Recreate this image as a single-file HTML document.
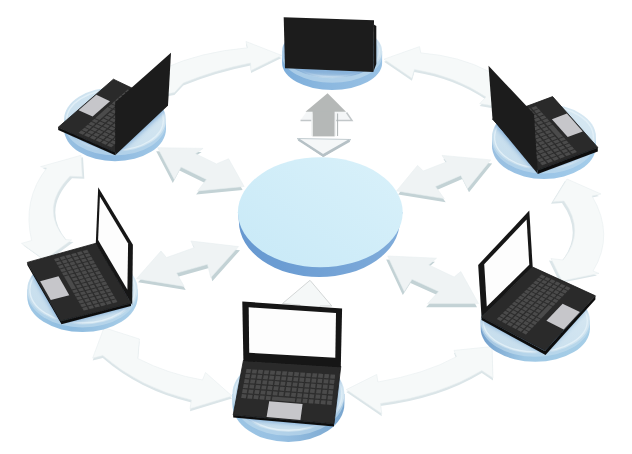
<!DOCTYPE html>
<html lang="en"><head><meta charset="utf-8"><title>Network</title>
<style>html,body{margin:0;padding:0;background:#fff;overflow:hidden}svg{display:block}</style></head>
<body><svg width="632" height="454" viewBox="0 0 632 454">
<defs><filter id="soft" x="0" y="0" width="100%" height="100%" filterUnits="userSpaceOnUse"><feGaussianBlur stdDeviation="0.55"/></filter>
<filter id="bl" x="-20%" y="-20%" width="140%" height="140%"><feGaussianBlur stdDeviation="2.2"/></filter>
<linearGradient id="tp0" x1="1" y1="0" x2="0" y2="1"><stop offset="0" stop-color="#d9f1fa"/><stop offset="1" stop-color="#c8e9f7"/></linearGradient>
<linearGradient id="sd0" x1="0" y1="0" x2="1" y2="0"><stop offset="0" stop-color="#6698d0"/><stop offset=".4" stop-color="#6e9fd4"/><stop offset="1" stop-color="#80acda"/></linearGradient>
<clipPath id="cl0"><ellipse cx="320.3" cy="212.3" rx="82.4" ry="55.0"/></clipPath>
<linearGradient id="tp1" x1="1" y1="0" x2="0" y2="1"><stop offset="0" stop-color="#d8e9f3"/><stop offset="1" stop-color="#c4dcec"/></linearGradient>
<linearGradient id="sd1" x1="0" y1="0" x2="1" y2="0"><stop offset="0" stop-color="#7cadda"/><stop offset=".4" stop-color="#8ab7df"/><stop offset="1" stop-color="#98c1e4"/></linearGradient>
<clipPath id="cl1"><ellipse cx="332.1" cy="51.2" rx="50.0" ry="27.0"/></clipPath>
<linearGradient id="tp2" x1="1" y1="0" x2="0" y2="1"><stop offset="0" stop-color="#d8e9f3"/><stop offset="1" stop-color="#c4dcec"/></linearGradient>
<linearGradient id="sd2" x1="0" y1="0" x2="1" y2="0"><stop offset="0" stop-color="#98c0e1"/><stop offset=".4" stop-color="#8cb8df"/><stop offset="1" stop-color="#a2c9e7"/></linearGradient>
<clipPath id="cl2"><ellipse cx="115.0" cy="119.6" rx="51.0" ry="32.2"/></clipPath>
<linearGradient id="tp3" x1="1" y1="0" x2="0" y2="1"><stop offset="0" stop-color="#d8e9f3"/><stop offset="1" stop-color="#c4dcec"/></linearGradient>
<linearGradient id="sd3" x1="0" y1="0" x2="1" y2="0"><stop offset="0" stop-color="#9ac0e1"/><stop offset=".4" stop-color="#98c3e6"/><stop offset="1" stop-color="#a5cdea"/></linearGradient>
<clipPath id="cl3"><ellipse cx="544.0" cy="137.0" rx="52.0" ry="33.0"/></clipPath>
<linearGradient id="tp4" x1="1" y1="0" x2="0" y2="1"><stop offset="0" stop-color="#d8e9f3"/><stop offset="1" stop-color="#c4dcec"/></linearGradient>
<linearGradient id="sd4" x1="0" y1="0" x2="1" y2="0"><stop offset="0" stop-color="#a0c8e5"/><stop offset=".4" stop-color="#8dbbdf"/><stop offset="1" stop-color="#acd0e9"/></linearGradient>
<clipPath id="cl4"><ellipse cx="82.5" cy="289.5" rx="55.2" ry="35.0"/></clipPath>
<linearGradient id="tp5" x1="1" y1="0" x2="0" y2="1"><stop offset="0" stop-color="#d8e9f3"/><stop offset="1" stop-color="#c4dcec"/></linearGradient>
<linearGradient id="sd5" x1="0" y1="0" x2="1" y2="0"><stop offset="0" stop-color="#729fcc"/><stop offset=".4" stop-color="#9fc8e5"/><stop offset="1" stop-color="#a6cee7"/></linearGradient>
<clipPath id="cl5"><ellipse cx="535.3" cy="320.5" rx="54.6" ry="33.0"/></clipPath>
<linearGradient id="tp6" x1="1" y1="0" x2="0" y2="1"><stop offset="0" stop-color="#d8e9f3"/><stop offset="1" stop-color="#c4dcec"/></linearGradient>
<linearGradient id="sd6" x1="0" y1="0" x2="1" y2="0"><stop offset="0" stop-color="#9cc5e4"/><stop offset=".4" stop-color="#98c1e3"/><stop offset="1" stop-color="#79a6cf"/></linearGradient>
<clipPath id="cl6"><ellipse cx="288.4" cy="394.0" rx="56.0" ry="38.0"/></clipPath></defs>
<g filter="url(#soft)">
<rect width="632" height="454" fill="#fff"/>
<path d="M281.6,55.4 L246,41.5 L247.5,47.8 Q200,52 165,68 L160,95 L174.4,92.6 L183.3,83 Q215,70 250.5,63 L251,70.6 Z" fill="#dbe5e8" transform="translate(0,2.5)"/>
<path d="M281.6,55.4 L246,41.5 L247.5,47.8 Q200,52 165,68 L160,95 L174.4,92.6 L183.3,83 Q215,70 250.5,63 L251,70.6 Z" fill="#f6f9f9" stroke="#e8eef0" stroke-width="0.6"/>
<path d="M384,59.2 L419.5,46.6 L420.8,52.9 Q460,56 489,71.5 L494,106 L479.7,103.6 L486,97 Q455,76 414.4,69.4 L411.9,78.2 Z" fill="#dbe5e8" transform="translate(0,2.5)"/>
<path d="M384,59.2 L419.5,46.6 L420.8,52.9 Q460,56 489,71.5 L494,106 L479.7,103.6 L486,97 Q455,76 414.4,69.4 L411.9,78.2 Z" fill="#f6f9f9" stroke="#e8eef0" stroke-width="0.6"/>
<path d="M567,179 L601,194 L592,196 Q615,235 593,271 L599,273.4 L562,281 L551,258.5 L563,260 Q586,232 564,201 L553,201.8 Z" fill="#dbe5e8" transform="translate(-2,2)"/>
<path d="M567,179 L601,194 L592,196 Q615,235 593,271 L599,273.4 L562,281 L551,258.5 L563,260 Q586,232 564,201 L553,201.8 Z" fill="#f6f9f9" stroke="#e8eef0" stroke-width="0.6"/>
<path d="M346.3,389.6 L376.7,374.4 L378,382 Q425,374 456.5,356.7 L454,350.4 L492,346.6 L493,378 L481.8,370.6 Q440,396 380.5,403.5 L381.8,413.7 Z" fill="#dbe5e8" transform="translate(0,2.5)"/>
<path d="M346.3,389.6 L376.7,374.4 L378,382 Q425,374 456.5,356.7 L454,350.4 L492,346.6 L493,378 L481.8,370.6 Q440,396 380.5,403.5 L381.8,413.7 Z" fill="#f6f9f9" stroke="#e8eef0" stroke-width="0.6"/>
<path d="M104,327.7 L139.5,339 L137.8,358.5 Q168,374 202.5,380 L205.5,372.5 L232,396 L190,408.7 L191.4,400 Q140,388 102.8,355.6 L92.7,358 Z" fill="#dbe5e8" transform="translate(0,2.5)"/>
<path d="M104,327.7 L139.5,339 L137.8,358.5 Q168,374 202.5,380 L205.5,372.5 L232,396 L190,408.7 L191.4,400 Q140,388 102.8,355.6 L92.7,358 Z" fill="#f6f9f9" stroke="#e8eef0" stroke-width="0.6"/>
<path d="M81,155.3 L82.3,176.8 L70,176.2 Q39,208 65.5,239.5 L71.5,240 L44.3,259.9 L21.5,243.4 L31.6,240.5 Q22,200 46.8,168 L40.5,166.7 Z" fill="#dbe5e8" transform="translate(2,2)"/>
<path d="M81,155.3 L82.3,176.8 L70,176.2 Q39,208 65.5,239.5 L71.5,240 L44.3,259.9 L21.5,243.4 L31.6,240.5 Q22,200 46.8,168 L40.5,166.7 Z" fill="#f6f9f9" stroke="#e8eef0" stroke-width="0.6"/>
<polygon points="156.2,151.3 201.6,152.0 193.9,157.3 214.9,167.5 227.1,162.4 242.6,190.1 196.1,194.5 205.0,183.0 179.5,170.6 172.8,183.0" fill="#c3d2d5" />
<polygon points="157.7,147.7 203.1,148.4 195.4,153.7 216.4,163.9 228.6,158.8 244.1,186.5 197.6,190.9 206.5,179.4 181.0,167.0 174.3,179.4" fill="#eff3f4" stroke="#e8eef0" stroke-width="0.6"/>
<polygon points="398.1,194.5 419.1,169.0 424.7,174.6 447.9,165.6 443.5,159.0 492.2,163.5 469.0,192.3 462.3,179.0 436.9,190.1 445.7,202.2" fill="#c3d2d5" />
<polygon points="396.6,190.9 417.6,165.4 423.2,171.0 446.4,162.0 442.0,155.4 490.7,159.9 467.5,188.7 460.8,175.4 435.4,186.5 444.2,198.6" fill="#eff3f4" stroke="#e8eef0" stroke-width="0.6"/>
<polygon points="138.1,282.3 162.5,254.6 168.0,261.2 195.7,251.3 192.4,244.6 240.0,250.2 212.3,281.2 209.0,267.9 178.0,276.7 185.7,290.0" fill="#c3d2d5" />
<polygon points="136.6,278.7 161.0,251.0 166.5,257.6 194.2,247.7 190.9,241.0 238.5,246.6 210.8,277.6 207.5,264.3 176.5,273.1 184.2,286.4" fill="#eff3f4" stroke="#e8eef0" stroke-width="0.6"/>
<polygon points="386.2,259.6 435.0,261.8 427.2,268.5 452.7,280.6 459.3,275.1 477.0,307.2 426.1,307.2 437.2,295.1 410.5,282.9 402.8,295.1" fill="#c3d2d5" />
<polygon points="387.7,256.0 436.5,258.2 428.7,264.9 454.2,277.0 460.8,271.5 478.5,303.6 427.6,303.6 438.7,291.5 412.0,279.3 404.3,291.5" fill="#eff3f4" stroke="#e8eef0" stroke-width="0.6"/>
<polygon points="310.0,280.3 282.5,303.5 300.0,305.0 300.0,330.0 320.0,330.0 320.0,306.0 331.8,306.0" fill="#f5f8f8" stroke="#cfd3d2" stroke-width="0.9"/>
<polygon points="297.0,138.5 351.0,139.5 323.2,156.5" fill="#f5f7f8" stroke="#c3cdd1" stroke-width="1"/>
<path d="M298.5,139.5 L323.2,155.5 L349.5,140.5" fill="none" stroke="#b6c1c6" stroke-width="2.6" stroke-linejoin="round"/>
<polygon points="300.5,120.3 306.5,111.8 345.5,111.8 352.0,120.3" fill="#f4f6f7" />
<path d="M300.5,120.6 H312 M335,120.6 H352 L346.5,112.5" fill="none" stroke="#c2c7c9" stroke-width="1.5"/>
<polygon points="312.6,111.0 334.6,111.0 334.6,136.4 312.6,136.4" fill="#b5b8b7" />
<polygon points="305.5,111.8 327.6,93.2 346.0,111.8" fill="#b5b8b7" />
<path d="M337.6,113.5 V136" stroke="#aeb3b4" stroke-width="1" fill="none"/>
<path d="M311.8,113.5 V136 M335.6,113.5 V136" stroke="#f1f3f3" stroke-width="1.2" fill="none"/>
<path d="M237.9,212.3 L238.9,221.5 A80.4,55.5 0 0 0 399.7,221.5 L402.7,212.3 Z" fill="url(#sd0)"/>
<ellipse cx="320.3" cy="212.3" rx="82.4" ry="55.0" fill="url(#tp0)"/>
<path d="M282.1,51.2 L282.1,63.0 A50.0,27.0 0 0 0 382.1,63.0 L382.1,51.2 Z" fill="url(#sd1)"/>
<path d="M282.1,51.2 L282.1,55.7 A50.0,27.0 0 0 0 382.1,55.7 L382.1,51.2 Z" fill="#c4deef" opacity=".6"/>
<ellipse cx="332.1" cy="51.2" rx="50.0" ry="27.0" fill="url(#tp1)"/>
<ellipse cx="332.1" cy="51.5" rx="47.4" ry="25.0" fill="none" stroke="#e4f1f8" stroke-width="1.4" opacity=".85"/>
<g clip-path="url(#cl1)"><polygon points="283.0,40.0 376.0,40.0 376.0,78.0 283.0,74.0" fill="#6a9dd0" opacity=".7" filter="url(#bl)"/></g>
<path d="M64.0,119.6 L64.0,129.1 A51.0,32.2 0 0 0 166.0,129.1 L166.0,119.6 Z" fill="url(#sd2)"/>
<path d="M64.0,119.6 L64.0,123.2 A51.0,32.2 0 0 0 166.0,123.2 L166.0,119.6 Z" fill="#c4deef" opacity=".6"/>
<ellipse cx="115.0" cy="119.6" rx="51.0" ry="32.2" fill="url(#tp2)"/>
<ellipse cx="115.0" cy="119.9" rx="48.4" ry="30.2" fill="none" stroke="#e4f1f8" stroke-width="1.4" opacity=".85"/>
<g clip-path="url(#cl2)"><polygon points="115.2,156.3 167.5,109.0 113.4,83.2 58.2,131.3" fill="#6a9dd0" opacity=".7" filter="url(#bl)"/></g>
<path d="M492.0,137.0 L492.0,146.0 A52.0,33.0 0 0 0 596.0,146.0 L596.0,137.0 Z" fill="url(#sd3)"/>
<path d="M492.0,137.0 L492.0,140.4 A52.0,33.0 0 0 0 596.0,140.4 L596.0,137.0 Z" fill="#c4deef" opacity=".6"/>
<ellipse cx="544.0" cy="137.0" rx="52.0" ry="33.0" fill="url(#tp3)"/>
<ellipse cx="544.0" cy="137.3" rx="49.4" ry="31.0" fill="none" stroke="#e4f1f8" stroke-width="1.4" opacity=".85"/>
<g clip-path="url(#cl3)"><polygon points="537.6,174.2 492.5,123.0 552.6,100.6 597.8,151.4" fill="#6a9dd0" opacity=".7" filter="url(#bl)"/></g>
<path d="M27.3,289.5 L27.3,297.1 A55.2,35.0 0 0 0 137.7,297.1 L137.7,289.5 Z" fill="url(#sd4)"/>
<path d="M27.3,289.5 L27.3,292.4 A55.2,35.0 0 0 0 137.7,292.4 L137.7,289.5 Z" fill="#c4deef" opacity=".6"/>
<ellipse cx="82.5" cy="289.5" rx="55.2" ry="35.0" fill="url(#tp4)"/>
<ellipse cx="82.5" cy="289.8" rx="52.6" ry="33.0" fill="none" stroke="#e4f1f8" stroke-width="1.4" opacity=".85"/>
<g clip-path="url(#cl4)"><polygon points="96.2,247.2 131.0,307.2 60.8,325.0 27.3,266.4" fill="#6a9dd0" opacity=".7" filter="url(#bl)"/></g>
<path d="M480.7,320.5 L480.7,328.8 A54.6,33.0 0 0 0 589.9,328.8 L589.9,320.5 Z" fill="url(#sd5)"/>
<path d="M480.7,320.5 L480.7,323.7 A54.6,33.0 0 0 0 589.9,323.7 L589.9,320.5 Z" fill="#c4deef" opacity=".6"/>
<ellipse cx="535.3" cy="320.5" rx="54.6" ry="33.0" fill="url(#tp5)"/>
<ellipse cx="535.3" cy="320.8" rx="52.0" ry="31.0" fill="none" stroke="#e4f1f8" stroke-width="1.4" opacity=".85"/>
<g clip-path="url(#cl5)"><polygon points="481.5,321.0 532.7,271.1 595.4,299.8 544.8,354.5" fill="#6a9dd0" opacity=".7" filter="url(#bl)"/></g>
<path d="M232.4,394.0 L232.4,404.0 A56.0,38.0 0 0 0 344.4,404.0 L344.4,394.0 Z" fill="url(#sd6)"/>
<path d="M232.4,394.0 L232.4,397.8 A56.0,38.0 0 0 0 344.4,397.8 L344.4,394.0 Z" fill="#c4deef" opacity=".6"/>
<ellipse cx="288.4" cy="394.0" rx="56.0" ry="38.0" fill="url(#tp6)"/>
<ellipse cx="288.4" cy="394.3" rx="53.4" ry="36.0" fill="none" stroke="#e4f1f8" stroke-width="1.4" opacity=".85"/>
<g clip-path="url(#cl6)"><polygon points="243.4,364.5 340.8,370.3 334.0,427.8 233.2,419.0" fill="#6a9dd0" opacity=".7" filter="url(#bl)"/></g>
<polygon points="283.7,17.2 374.0,20.3 373.3,72.0 285.0,68.2" fill="#1d1d1d" />
<polygon points="373.8,24.5 376.3,26.0 376.3,64.0 373.3,72.0" fill="#171717" />
<polygon points="58.2,127.3 115.2,152.3 115.2,155.3 58.2,130.0" fill="#111" />
<polygon points="115.2,152.3 167.5,105.0 113.4,79.2 58.2,127.3" fill="#2a2a2a" stroke="#1a1a1a" stroke-width="0.8"/>
<polygon points="111.6,147.9 160.0,104.3 127.5,88.9 77.5,132.9" fill="#2d2d2d" />
<polygon points="111.3,147.3 113.8,145.0 109.5,143.1 107.0,145.4" fill="#4b4b4b" />
<polygon points="114.5,144.3 117.0,142.1 112.7,140.2 110.2,142.4" fill="#4b4b4b" />
<polygon points="117.8,141.4 120.2,139.2 115.9,137.3 113.5,139.5" fill="#4b4b4b" />
<polygon points="121.0,138.5 123.4,136.3 119.2,134.4 116.7,136.6" fill="#4b4b4b" />
<polygon points="124.2,135.6 126.7,133.4 122.4,131.5 120.0,133.7" fill="#4b4b4b" />
<polygon points="127.4,132.7 129.9,130.5 125.7,128.6 123.2,130.8" fill="#4b4b4b" />
<polygon points="130.7,129.8 133.1,127.6 128.9,125.7 126.4,127.9" fill="#4b4b4b" />
<polygon points="133.9,126.9 136.4,124.7 132.1,122.8 129.7,125.0" fill="#4b4b4b" />
<polygon points="137.1,124.0 139.6,121.8 135.4,119.9 132.9,122.1" fill="#4b4b4b" />
<polygon points="140.4,121.1 142.8,118.9 138.6,116.9 136.2,119.2" fill="#4b4b4b" />
<polygon points="143.6,118.2 146.0,116.0 141.9,114.0 139.4,116.2" fill="#4b4b4b" />
<polygon points="146.8,115.3 149.3,113.1 145.1,111.1 142.6,113.3" fill="#4b4b4b" />
<polygon points="150.0,112.4 152.5,110.2 148.3,108.2 145.9,110.4" fill="#4b4b4b" />
<polygon points="153.3,109.5 155.7,107.3 151.6,105.3 149.1,107.5" fill="#4b4b4b" />
<polygon points="156.5,106.6 158.9,104.4 154.8,102.4 152.4,104.6" fill="#4b4b4b" />
<polygon points="105.6,144.8 108.1,142.5 103.8,140.6 101.3,142.8" fill="#4b4b4b" />
<polygon points="108.9,141.8 111.3,139.6 107.0,137.7 104.6,139.9" fill="#4b4b4b" />
<polygon points="112.1,138.9 114.6,136.7 110.3,134.8 107.8,137.0" fill="#4b4b4b" />
<polygon points="115.4,136.0 117.8,133.8 113.6,131.9 111.1,134.1" fill="#4b4b4b" />
<polygon points="118.6,133.1 121.1,130.9 116.8,129.0 114.3,131.2" fill="#4b4b4b" />
<polygon points="121.8,130.2 124.3,128.0 120.1,126.1 117.6,128.3" fill="#4b4b4b" />
<polygon points="125.1,127.3 127.6,125.1 123.3,123.1 120.9,125.4" fill="#4b4b4b" />
<polygon points="128.3,124.4 130.8,122.2 126.6,120.2 124.1,122.4" fill="#4b4b4b" />
<polygon points="131.6,121.5 134.1,119.2 129.8,117.3 127.4,119.5" fill="#4b4b4b" />
<polygon points="134.8,118.5 137.3,116.3 133.1,114.4 130.6,116.6" fill="#4b4b4b" />
<polygon points="138.1,115.6 140.5,113.4 136.4,111.5 133.9,113.7" fill="#4b4b4b" />
<polygon points="141.3,112.7 143.8,110.5 139.6,108.6 137.1,110.8" fill="#4b4b4b" />
<polygon points="144.6,109.8 147.0,107.6 142.9,105.7 140.4,107.9" fill="#4b4b4b" />
<polygon points="147.8,106.9 150.3,104.7 146.1,102.7 143.7,105.0" fill="#4b4b4b" />
<polygon points="151.1,104.0 153.5,101.8 149.4,99.8 146.9,102.0" fill="#4b4b4b" />
<polygon points="99.9,142.2 102.4,140.0 98.1,138.1 95.6,140.3" fill="#4b4b4b" />
<polygon points="103.2,139.3 105.7,137.1 101.4,135.2 98.9,137.4" fill="#4b4b4b" />
<polygon points="106.5,136.4 108.9,134.2 104.7,132.3 102.2,134.5" fill="#4b4b4b" />
<polygon points="109.7,133.5 112.2,131.3 107.9,129.4 105.4,131.6" fill="#4b4b4b" />
<polygon points="113.0,130.6 115.5,128.4 111.2,126.4 108.7,128.7" fill="#4b4b4b" />
<polygon points="116.3,127.7 118.7,125.4 114.5,123.5 112.0,125.7" fill="#4b4b4b" />
<polygon points="119.5,124.7 122.0,122.5 117.8,120.6 115.3,122.8" fill="#4b4b4b" />
<polygon points="122.8,121.8 125.3,119.6 121.0,117.7 118.6,119.9" fill="#4b4b4b" />
<polygon points="126.0,118.9 128.5,116.7 124.3,114.8 121.8,117.0" fill="#4b4b4b" />
<polygon points="129.3,116.0 131.8,113.8 127.6,111.8 125.1,114.1" fill="#4b4b4b" />
<polygon points="132.6,113.1 135.0,110.9 130.9,108.9 128.4,111.1" fill="#4b4b4b" />
<polygon points="135.8,110.2 138.3,108.0 134.1,106.0 131.7,108.2" fill="#4b4b4b" />
<polygon points="139.1,107.3 141.6,105.0 137.4,103.1 134.9,105.3" fill="#4b4b4b" />
<polygon points="142.4,104.3 144.8,102.1 140.7,100.2 138.2,102.4" fill="#4b4b4b" />
<polygon points="145.6,101.4 148.1,99.2 144.0,97.2 141.5,99.5" fill="#4b4b4b" />
<polygon points="94.2,139.7 96.7,137.5 92.4,135.6 89.9,137.8" fill="#4b4b4b" />
<polygon points="97.5,136.8 100.0,134.6 95.7,132.7 93.2,134.9" fill="#4b4b4b" />
<polygon points="100.8,133.9 103.3,131.7 99.0,129.8 96.5,132.0" fill="#4b4b4b" />
<polygon points="104.1,131.0 106.6,128.8 102.3,126.8 99.8,129.1" fill="#4b4b4b" />
<polygon points="107.4,128.1 109.9,125.8 105.6,123.9 103.1,126.1" fill="#4b4b4b" />
<polygon points="110.7,125.1 113.1,122.9 108.9,121.0 106.4,123.2" fill="#4b4b4b" />
<polygon points="113.9,122.2 116.4,120.0 112.2,118.1 109.7,120.3" fill="#4b4b4b" />
<polygon points="117.2,119.3 119.7,117.1 115.5,115.1 113.0,117.4" fill="#4b4b4b" />
<polygon points="120.5,116.4 123.0,114.2 118.8,112.2 116.3,114.4" fill="#4b4b4b" />
<polygon points="123.8,113.5 126.3,111.2 122.1,109.3 119.6,111.5" fill="#4b4b4b" />
<polygon points="127.1,110.5 129.6,108.3 125.4,106.4 122.9,108.6" fill="#4b4b4b" />
<polygon points="130.3,107.6 132.8,105.4 128.7,103.4 126.2,105.7" fill="#4b4b4b" />
<polygon points="133.6,104.7 136.1,102.5 132.0,100.5 129.5,102.7" fill="#4b4b4b" />
<polygon points="136.9,101.8 139.4,99.5 135.3,97.6 132.8,99.8" fill="#4b4b4b" />
<polygon points="140.2,98.8 142.7,96.6 138.6,94.7 136.1,96.9" fill="#4b4b4b" />
<polygon points="88.6,137.2 91.1,135.0 86.8,133.1 84.2,135.3" fill="#4b4b4b" />
<polygon points="91.9,134.3 94.4,132.1 90.1,130.2 87.6,132.4" fill="#4b4b4b" />
<polygon points="95.2,131.4 97.7,129.2 93.4,127.3 90.9,129.5" fill="#4b4b4b" />
<polygon points="98.5,128.5 101.0,126.2 96.7,124.3 94.2,126.5" fill="#4b4b4b" />
<polygon points="101.8,125.5 104.3,123.3 100.0,121.4 97.5,123.6" fill="#4b4b4b" />
<polygon points="105.1,122.6 107.6,120.4 103.3,118.5 100.8,120.7" fill="#4b4b4b" />
<polygon points="108.4,119.7 110.9,117.5 106.6,115.5 104.1,117.8" fill="#4b4b4b" />
<polygon points="111.7,116.8 114.2,114.5 109.9,112.6 107.4,114.8" fill="#4b4b4b" />
<polygon points="115.0,113.8 117.5,111.6 113.3,109.7 110.7,111.9" fill="#4b4b4b" />
<polygon points="118.3,110.9 120.8,108.7 116.6,106.7 114.1,109.0" fill="#4b4b4b" />
<polygon points="121.6,108.0 124.1,105.8 119.9,103.8 117.4,106.0" fill="#4b4b4b" />
<polygon points="124.9,105.1 127.4,102.8 123.2,100.9 120.7,103.1" fill="#4b4b4b" />
<polygon points="128.1,102.1 130.7,99.9 126.5,98.0 124.0,100.2" fill="#4b4b4b" />
<polygon points="131.4,99.2 134.0,97.0 129.8,95.0 127.3,97.2" fill="#4b4b4b" />
<polygon points="134.7,96.3 137.3,94.0 133.1,92.1 130.6,94.3" fill="#4b4b4b" />
<polygon points="82.9,134.7 85.4,132.5 81.1,130.6 78.6,132.8" fill="#4b4b4b" />
<polygon points="86.2,131.8 88.7,129.6 84.4,127.7 81.9,129.9" fill="#4b4b4b" />
<polygon points="89.5,128.9 92.0,126.6 87.7,124.7 85.2,127.0" fill="#4b4b4b" />
<polygon points="92.8,125.9 95.3,123.7 91.1,121.8 88.5,124.0" fill="#4b4b4b" />
<polygon points="96.1,123.0 98.7,120.8 94.4,118.9 91.9,121.1" fill="#4b4b4b" />
<polygon points="99.5,120.1 111.9,109.1 107.7,107.1 95.2,118.2" fill="#4b4b4b" />
<polygon points="112.7,108.4 115.2,106.1 111.1,104.2 108.5,106.4" fill="#4b4b4b" />
<polygon points="116.0,105.4 118.6,103.2 114.4,101.3 111.9,103.5" fill="#4b4b4b" />
<polygon points="119.4,102.5 121.9,100.3 117.7,98.3 115.2,100.6" fill="#4b4b4b" />
<polygon points="122.7,99.6 125.2,97.3 121.0,95.4 118.5,97.6" fill="#4b4b4b" />
<polygon points="126.0,96.6 128.5,94.4 124.4,92.5 121.8,94.7" fill="#4b4b4b" />
<polygon points="129.3,93.7 131.8,91.5 127.7,89.5 125.2,91.7" fill="#4b4b4b" />
<polygon points="92.6,116.6 110.0,101.2 96.3,94.8 78.6,110.2" fill="#c6c6ca" />
<polygon points="115.2,102.3 171.0,52.7 168.0,105.5 115.2,155.3" fill="#1c1c1c" />
<polygon points="537.6,170.2 597.8,147.4 597.8,151.5 537.8,174.0" fill="#111" />
<polygon points="537.6,170.2 492.5,119.0 552.6,96.6 597.8,147.4" fill="#2a2a2a" stroke="#1a1a1a" stroke-width="0.8"/>
<polygon points="541.8,165.9 500.3,118.8 536.4,105.4 577.9,152.2" fill="#2d2d2d" />
<polygon points="542.2,165.2 540.1,162.8 544.7,161.1 546.8,163.5" fill="#4b4b4b" />
<polygon points="539.4,162.1 537.3,159.7 541.9,158.0 544.0,160.4" fill="#4b4b4b" />
<polygon points="536.7,158.9 534.6,156.6 539.1,154.8 541.2,157.2" fill="#4b4b4b" />
<polygon points="533.9,155.8 531.8,153.4 536.4,151.7 538.5,154.1" fill="#4b4b4b" />
<polygon points="531.1,152.7 529.0,150.3 533.6,148.6 535.7,150.9" fill="#4b4b4b" />
<polygon points="528.4,149.5 526.3,147.2 530.8,145.4 532.9,147.8" fill="#4b4b4b" />
<polygon points="525.6,146.4 523.5,144.0 528.1,142.3 530.2,144.7" fill="#4b4b4b" />
<polygon points="522.8,143.3 520.7,140.9 525.3,139.2 527.4,141.5" fill="#4b4b4b" />
<polygon points="520.1,140.1 518.0,137.7 522.5,136.0 524.6,138.4" fill="#4b4b4b" />
<polygon points="517.3,137.0 515.2,134.6 519.8,132.9 521.9,135.3" fill="#4b4b4b" />
<polygon points="514.5,133.8 512.4,131.5 517.0,129.8 519.1,132.1" fill="#4b4b4b" />
<polygon points="511.8,130.7 509.7,128.3 514.2,126.6 516.3,129.0" fill="#4b4b4b" />
<polygon points="509.0,127.6 506.9,125.2 511.5,123.5 513.6,125.9" fill="#4b4b4b" />
<polygon points="506.2,124.4 504.1,122.1 508.7,120.3 510.8,122.7" fill="#4b4b4b" />
<polygon points="503.5,121.3 501.4,118.9 505.9,117.2 508.0,119.6" fill="#4b4b4b" />
<polygon points="548.2,162.9 546.1,160.6 550.7,158.8 552.8,161.2" fill="#4b4b4b" />
<polygon points="545.5,159.8 543.4,157.4 547.9,155.7 550.0,158.1" fill="#4b4b4b" />
<polygon points="542.7,156.7 540.6,154.3 545.2,152.6 547.3,154.9" fill="#4b4b4b" />
<polygon points="539.9,153.5 537.8,151.2 542.4,149.4 544.5,151.8" fill="#4b4b4b" />
<polygon points="537.2,150.4 535.1,148.0 539.6,146.3 541.7,148.7" fill="#4b4b4b" />
<polygon points="534.4,147.3 532.3,144.9 536.9,143.2 539.0,145.5" fill="#4b4b4b" />
<polygon points="531.6,144.1 529.5,141.8 534.1,140.0 536.2,142.4" fill="#4b4b4b" />
<polygon points="528.9,141.0 526.8,138.6 531.3,136.9 533.4,139.3" fill="#4b4b4b" />
<polygon points="526.1,137.9 524.0,135.5 528.6,133.8 530.7,136.1" fill="#4b4b4b" />
<polygon points="523.3,134.7 521.2,132.3 525.8,130.6 527.9,133.0" fill="#4b4b4b" />
<polygon points="520.6,131.6 518.4,129.2 523.0,127.5 525.1,129.9" fill="#4b4b4b" />
<polygon points="517.8,128.5 515.7,126.1 520.2,124.4 522.4,126.7" fill="#4b4b4b" />
<polygon points="515.0,125.3 512.9,122.9 517.5,121.2 519.6,123.6" fill="#4b4b4b" />
<polygon points="512.2,122.2 510.1,119.8 514.7,118.1 516.8,120.5" fill="#4b4b4b" />
<polygon points="509.5,119.1 507.4,116.7 511.9,115.0 514.0,117.3" fill="#4b4b4b" />
<polygon points="554.2,160.7 552.1,158.3 556.7,156.6 558.8,158.9" fill="#4b4b4b" />
<polygon points="551.5,157.5 549.4,155.2 553.9,153.4 556.1,155.8" fill="#4b4b4b" />
<polygon points="548.7,154.4 546.6,152.0 551.2,150.3 553.3,152.7" fill="#4b4b4b" />
<polygon points="545.9,151.3 543.8,148.9 548.4,147.2 550.5,149.5" fill="#4b4b4b" />
<polygon points="543.2,148.1 541.1,145.8 545.6,144.0 547.7,146.4" fill="#4b4b4b" />
<polygon points="540.4,145.0 538.3,142.6 542.9,140.9 545.0,143.3" fill="#4b4b4b" />
<polygon points="537.6,141.9 535.5,139.5 540.1,137.8 542.2,140.2" fill="#4b4b4b" />
<polygon points="534.9,138.7 532.8,136.4 537.3,134.6 539.4,137.0" fill="#4b4b4b" />
<polygon points="532.1,135.6 530.0,133.2 534.6,131.5 536.7,133.9" fill="#4b4b4b" />
<polygon points="529.3,132.5 527.2,130.1 531.8,128.4 533.9,130.8" fill="#4b4b4b" />
<polygon points="526.6,129.3 524.5,127.0 529.0,125.2 531.1,127.6" fill="#4b4b4b" />
<polygon points="523.8,126.2 521.7,123.8 526.3,122.1 528.4,124.5" fill="#4b4b4b" />
<polygon points="521.0,123.1 518.9,120.7 523.5,119.0 525.6,121.4" fill="#4b4b4b" />
<polygon points="518.3,119.9 516.2,117.6 520.7,115.9 522.8,118.2" fill="#4b4b4b" />
<polygon points="515.5,116.8 513.4,114.4 518.0,112.7 520.1,115.1" fill="#4b4b4b" />
<polygon points="560.3,158.4 558.2,156.0 562.7,154.3 564.8,156.7" fill="#4b4b4b" />
<polygon points="557.5,155.3 555.4,152.9 560.0,151.2 562.1,153.5" fill="#4b4b4b" />
<polygon points="554.7,152.1 552.6,149.8 557.2,148.0 559.3,150.4" fill="#4b4b4b" />
<polygon points="552.0,149.0 549.9,146.6 554.4,144.9 556.5,147.3" fill="#4b4b4b" />
<polygon points="549.2,145.9 547.1,143.5 551.7,141.8 553.8,144.1" fill="#4b4b4b" />
<polygon points="546.4,142.7 544.3,140.4 548.9,138.6 551.0,141.0" fill="#4b4b4b" />
<polygon points="543.7,139.6 541.5,137.2 546.1,135.5 548.2,137.9" fill="#4b4b4b" />
<polygon points="540.9,136.5 538.8,134.1 543.4,132.4 545.5,134.8" fill="#4b4b4b" />
<polygon points="538.1,133.3 536.0,131.0 540.6,129.3 542.7,131.6" fill="#4b4b4b" />
<polygon points="535.3,130.2 533.2,127.8 537.8,126.1 539.9,128.5" fill="#4b4b4b" />
<polygon points="532.6,127.1 530.5,124.7 535.0,123.0 537.1,125.4" fill="#4b4b4b" />
<polygon points="529.8,124.0 527.7,121.6 532.3,119.9 534.4,122.2" fill="#4b4b4b" />
<polygon points="527.0,120.8 524.9,118.4 529.5,116.7 531.6,119.1" fill="#4b4b4b" />
<polygon points="524.3,117.7 522.2,115.3 526.7,113.6 528.8,116.0" fill="#4b4b4b" />
<polygon points="521.5,114.6 519.4,112.2 524.0,110.5 526.1,112.9" fill="#4b4b4b" />
<polygon points="566.3,156.1 564.2,153.7 568.8,152.0 570.9,154.4" fill="#4b4b4b" />
<polygon points="563.5,153.0 561.4,150.6 566.0,148.9 568.1,151.3" fill="#4b4b4b" />
<polygon points="560.7,149.9 558.6,147.5 563.2,145.8 565.3,148.1" fill="#4b4b4b" />
<polygon points="558.0,146.7 555.9,144.4 560.4,142.6 562.5,145.0" fill="#4b4b4b" />
<polygon points="555.2,143.6 553.1,141.2 557.7,139.5 559.8,141.9" fill="#4b4b4b" />
<polygon points="552.4,140.5 550.3,138.1 554.9,136.4 557.0,138.8" fill="#4b4b4b" />
<polygon points="549.7,137.3 547.6,135.0 552.1,133.2 554.2,135.6" fill="#4b4b4b" />
<polygon points="546.9,134.2 544.8,131.8 549.4,130.1 551.5,132.5" fill="#4b4b4b" />
<polygon points="544.1,131.1 542.0,128.7 546.6,127.0 548.7,129.4" fill="#4b4b4b" />
<polygon points="541.4,128.0 539.3,125.6 543.8,123.9 545.9,126.2" fill="#4b4b4b" />
<polygon points="538.6,124.8 536.5,122.5 541.1,120.7 543.2,123.1" fill="#4b4b4b" />
<polygon points="535.8,121.7 533.7,119.3 538.3,117.6 540.4,120.0" fill="#4b4b4b" />
<polygon points="533.1,118.6 530.9,116.2 535.5,114.5 537.6,116.9" fill="#4b4b4b" />
<polygon points="530.3,115.5 528.2,113.1 532.7,111.4 534.9,113.7" fill="#4b4b4b" />
<polygon points="527.5,112.3 525.4,109.9 530.0,108.2 532.1,110.6" fill="#4b4b4b" />
<polygon points="572.3,153.8 570.2,151.5 574.8,149.7 576.9,152.1" fill="#4b4b4b" />
<polygon points="569.5,150.7 567.4,148.3 572.0,146.6 574.1,149.0" fill="#4b4b4b" />
<polygon points="566.8,147.6 564.7,145.2 569.2,143.5 571.3,145.9" fill="#4b4b4b" />
<polygon points="564.0,144.5 561.9,142.1 566.5,140.4 568.6,142.7" fill="#4b4b4b" />
<polygon points="561.2,141.3 559.1,139.0 563.7,137.2 565.8,139.6" fill="#4b4b4b" />
<polygon points="558.5,138.2 548.0,126.5 552.6,124.7 563.0,136.5" fill="#4b4b4b" />
<polygon points="547.4,125.7 545.3,123.3 549.8,121.6 551.9,124.0" fill="#4b4b4b" />
<polygon points="544.6,122.6 542.5,120.2 547.1,118.5 549.2,120.9" fill="#4b4b4b" />
<polygon points="541.8,119.5 539.7,117.1 544.3,115.4 546.4,117.7" fill="#4b4b4b" />
<polygon points="539.1,116.3 537.0,114.0 541.5,112.2 543.6,114.6" fill="#4b4b4b" />
<polygon points="536.3,113.2 534.2,110.8 538.8,109.1 540.9,111.5" fill="#4b4b4b" />
<polygon points="533.5,110.1 531.4,107.7 536.0,106.0 538.1,108.4" fill="#4b4b4b" />
<polygon points="567.7,137.0 551.9,119.2 566.9,113.6 582.7,131.4" fill="#c6c6ca" />
<polygon points="488.5,65.7 534.0,114.0 537.8,174.0 492.5,119.0" fill="#1c1c1c" />
<polygon points="27.3,262.4 60.8,321.0 131.0,303.2 131.0,306.0 61.5,324.3 27.3,265.0" fill="#111" />
<polygon points="96.2,243.2 131.0,303.2 60.8,321.0 27.3,262.4" fill="#2a2a2a" stroke="#1a1a1a" stroke-width="0.8"/>
<polygon points="87.6,249.1 118.4,302.3 83.3,311.2 53.1,258.6" fill="#2d2d2d" />
<polygon points="87.2,249.7 88.7,252.4 84.3,253.6 82.8,250.9" fill="#4b4b4b" />
<polygon points="89.2,253.2 90.8,255.9 86.4,257.1 84.8,254.4" fill="#4b4b4b" />
<polygon points="91.3,256.8 92.8,259.5 88.4,260.7 86.9,258.0" fill="#4b4b4b" />
<polygon points="93.3,260.3 94.9,263.0 90.5,264.2 88.9,261.5" fill="#4b4b4b" />
<polygon points="95.4,263.9 96.9,266.6 92.5,267.8 91.0,265.1" fill="#4b4b4b" />
<polygon points="97.4,267.4 99.0,270.1 94.6,271.3 93.0,268.6" fill="#4b4b4b" />
<polygon points="99.5,271.0 101.0,273.7 96.6,274.8 95.1,272.1" fill="#4b4b4b" />
<polygon points="101.5,274.5 103.1,277.2 98.7,278.4 97.1,275.7" fill="#4b4b4b" />
<polygon points="103.6,278.1 105.1,280.8 100.7,281.9 99.2,279.2" fill="#4b4b4b" />
<polygon points="105.6,281.6 107.2,284.3 102.8,285.5 101.2,282.8" fill="#4b4b4b" />
<polygon points="107.7,285.2 109.2,287.8 104.8,289.0 103.3,286.3" fill="#4b4b4b" />
<polygon points="109.7,288.7 111.3,291.4 106.9,292.5 105.3,289.9" fill="#4b4b4b" />
<polygon points="111.8,292.2 113.3,294.9 108.9,296.1 107.4,293.4" fill="#4b4b4b" />
<polygon points="113.8,295.8 115.4,298.5 111.0,299.6 109.4,296.9" fill="#4b4b4b" />
<polygon points="115.9,299.3 117.4,302.0 113.0,303.2 111.4,300.5" fill="#4b4b4b" />
<polygon points="81.4,251.3 83.0,254.0 78.6,255.2 77.0,252.5" fill="#4b4b4b" />
<polygon points="83.5,254.8 85.0,257.5 80.6,258.7 79.1,256.0" fill="#4b4b4b" />
<polygon points="85.5,258.4 87.1,261.0 82.7,262.2 81.1,259.6" fill="#4b4b4b" />
<polygon points="87.5,261.9 89.1,264.6 84.7,265.8 83.2,263.1" fill="#4b4b4b" />
<polygon points="89.6,265.4 91.1,268.1 86.8,269.3 85.2,266.6" fill="#4b4b4b" />
<polygon points="91.6,269.0 93.2,271.7 88.8,272.8 87.2,270.2" fill="#4b4b4b" />
<polygon points="93.7,272.5 95.2,275.2 90.8,276.4 89.3,273.7" fill="#4b4b4b" />
<polygon points="95.7,276.1 97.3,278.7 92.9,279.9 91.3,277.2" fill="#4b4b4b" />
<polygon points="97.8,279.6 99.3,282.3 94.9,283.5 93.4,280.8" fill="#4b4b4b" />
<polygon points="99.8,283.1 101.4,285.8 97.0,287.0 95.4,284.3" fill="#4b4b4b" />
<polygon points="101.9,286.7 103.4,289.4 99.0,290.5 97.4,287.8" fill="#4b4b4b" />
<polygon points="103.9,290.2 105.5,292.9 101.0,294.1 99.5,291.4" fill="#4b4b4b" />
<polygon points="106.0,293.8 107.5,296.4 103.1,297.6 101.5,294.9" fill="#4b4b4b" />
<polygon points="108.0,297.3 109.6,300.0 105.1,301.1 103.6,298.4" fill="#4b4b4b" />
<polygon points="110.0,300.8 111.6,303.5 107.2,304.7 105.6,302.0" fill="#4b4b4b" />
<polygon points="75.7,252.9 77.2,255.6 72.8,256.8 71.3,254.1" fill="#4b4b4b" />
<polygon points="77.7,256.4 79.2,259.1 74.9,260.3 73.3,257.6" fill="#4b4b4b" />
<polygon points="79.7,259.9 81.3,262.6 76.9,263.8 75.4,261.1" fill="#4b4b4b" />
<polygon points="81.8,263.5 83.3,266.2 78.9,267.3 77.4,264.7" fill="#4b4b4b" />
<polygon points="83.8,267.0 85.4,269.7 81.0,270.9 79.4,268.2" fill="#4b4b4b" />
<polygon points="85.9,270.5 87.4,273.2 83.0,274.4 81.5,271.7" fill="#4b4b4b" />
<polygon points="87.9,274.1 89.4,276.8 85.0,277.9 83.5,275.2" fill="#4b4b4b" />
<polygon points="89.9,277.6 91.5,280.3 87.1,281.5 85.5,278.8" fill="#4b4b4b" />
<polygon points="92.0,281.1 93.5,283.8 89.1,285.0 87.6,282.3" fill="#4b4b4b" />
<polygon points="94.0,284.7 95.6,287.4 91.1,288.5 89.6,285.8" fill="#4b4b4b" />
<polygon points="96.1,288.2 97.6,290.9 93.2,292.0 91.6,289.4" fill="#4b4b4b" />
<polygon points="98.1,291.7 99.6,294.4 95.2,295.6 93.7,292.9" fill="#4b4b4b" />
<polygon points="100.1,295.3 101.7,298.0 97.3,299.1 95.7,296.4" fill="#4b4b4b" />
<polygon points="102.2,298.8 103.7,301.5 99.3,302.6 97.7,299.9" fill="#4b4b4b" />
<polygon points="104.2,302.3 105.8,305.0 101.3,306.2 99.8,303.5" fill="#4b4b4b" />
<polygon points="69.9,254.5 71.5,257.1 67.1,258.4 65.5,255.7" fill="#4b4b4b" />
<polygon points="71.9,258.0 73.5,260.7 69.1,261.9 67.6,259.2" fill="#4b4b4b" />
<polygon points="74.0,261.5 75.5,264.2 71.1,265.4 69.6,262.7" fill="#4b4b4b" />
<polygon points="76.0,265.0 77.6,267.7 73.2,268.9 71.6,266.2" fill="#4b4b4b" />
<polygon points="78.0,268.6 79.6,271.2 75.2,272.4 73.7,269.8" fill="#4b4b4b" />
<polygon points="80.1,272.1 81.6,274.8 77.2,276.0 75.7,273.3" fill="#4b4b4b" />
<polygon points="82.1,275.6 83.7,278.3 79.3,279.5 77.7,276.8" fill="#4b4b4b" />
<polygon points="84.1,279.1 85.7,281.8 81.3,283.0 79.7,280.3" fill="#4b4b4b" />
<polygon points="86.2,282.7 87.7,285.4 83.3,286.5 81.8,283.8" fill="#4b4b4b" />
<polygon points="88.2,286.2 89.8,288.9 85.3,290.0 83.8,287.4" fill="#4b4b4b" />
<polygon points="90.2,289.7 91.8,292.4 87.4,293.6 85.8,290.9" fill="#4b4b4b" />
<polygon points="92.3,293.3 93.8,295.9 89.4,297.1 87.9,294.4" fill="#4b4b4b" />
<polygon points="94.3,296.8 95.9,299.5 91.4,300.6 89.9,297.9" fill="#4b4b4b" />
<polygon points="96.3,300.3 97.9,303.0 93.4,304.1 91.9,301.4" fill="#4b4b4b" />
<polygon points="98.4,303.8 99.9,306.5 95.5,307.6 93.9,305.0" fill="#4b4b4b" />
<polygon points="64.2,256.1 65.7,258.7 61.3,259.9 59.8,257.3" fill="#4b4b4b" />
<polygon points="66.2,259.6 67.7,262.3 63.4,263.5 61.8,260.8" fill="#4b4b4b" />
<polygon points="68.2,263.1 69.8,265.8 65.4,267.0 63.8,264.3" fill="#4b4b4b" />
<polygon points="70.2,266.6 71.8,269.3 67.4,270.5 65.9,267.8" fill="#4b4b4b" />
<polygon points="72.3,270.1 73.8,272.8 69.4,274.0 67.9,271.3" fill="#4b4b4b" />
<polygon points="74.3,273.7 75.8,276.3 71.4,277.5 69.9,274.8" fill="#4b4b4b" />
<polygon points="76.3,277.2 77.9,279.8 73.5,281.0 71.9,278.4" fill="#4b4b4b" />
<polygon points="78.3,280.7 79.9,283.4 75.5,284.5 73.9,281.9" fill="#4b4b4b" />
<polygon points="80.4,284.2 81.9,286.9 77.5,288.1 76.0,285.4" fill="#4b4b4b" />
<polygon points="82.4,287.7 83.9,290.4 79.5,291.6 78.0,288.9" fill="#4b4b4b" />
<polygon points="84.4,291.2 86.0,293.9 81.5,295.1 80.0,292.4" fill="#4b4b4b" />
<polygon points="86.5,294.8 88.0,297.4 83.6,298.6 82.0,295.9" fill="#4b4b4b" />
<polygon points="88.5,298.3 90.0,301.0 85.6,302.1 84.1,299.4" fill="#4b4b4b" />
<polygon points="90.5,301.8 92.0,304.5 87.6,305.6 86.1,302.9" fill="#4b4b4b" />
<polygon points="92.5,305.3 94.1,308.0 89.6,309.1 88.1,306.5" fill="#4b4b4b" />
<polygon points="58.4,257.7 59.9,260.3 55.6,261.5 54.0,258.9" fill="#4b4b4b" />
<polygon points="60.4,261.2 62.0,263.8 57.6,265.0 56.1,262.4" fill="#4b4b4b" />
<polygon points="62.5,264.7 64.0,267.3 59.6,268.5 58.1,265.9" fill="#4b4b4b" />
<polygon points="64.5,268.2 66.0,270.9 61.6,272.0 60.1,269.4" fill="#4b4b4b" />
<polygon points="66.5,271.7 68.0,274.4 63.6,275.6 62.1,272.9" fill="#4b4b4b" />
<polygon points="68.5,275.2 76.1,288.4 71.7,289.6 64.1,276.4" fill="#4b4b4b" />
<polygon points="76.6,289.3 78.1,291.9 73.7,293.1 72.2,290.4" fill="#4b4b4b" />
<polygon points="78.6,292.8 80.2,295.4 75.7,296.6 74.2,293.9" fill="#4b4b4b" />
<polygon points="80.6,296.3 82.2,299.0 77.7,300.1 76.2,297.4" fill="#4b4b4b" />
<polygon points="82.7,299.8 84.2,302.5 79.8,303.6 78.2,300.9" fill="#4b4b4b" />
<polygon points="84.7,303.3 86.2,306.0 81.8,307.1 80.2,304.5" fill="#4b4b4b" />
<polygon points="86.7,306.8 88.2,309.5 83.8,310.6 82.3,308.0" fill="#4b4b4b" />
<polygon points="58.5,276.3 69.3,295.2 50.8,300.0 40.1,281.3" fill="#c6c6ca" />
<polygon points="98.2,187.2 132.9,244.7 132.2,305.0 95.8,243.2" fill="#151515" />
<polygon points="99.9,196.5 128.1,243.5 127.4,289.8 98.1,240.1" fill="#fdfdfd" />
<polygon points="481.5,317.0 544.8,351.1 595.4,295.8 595.4,299.5 545.5,355.0 481.5,320.0" fill="#111" />
<polygon points="481.5,317.0 532.7,267.1 595.4,295.8 544.8,350.5" fill="#2a2a2a" stroke="#1a1a1a" stroke-width="0.8"/>
<polygon points="495.8,319.1 541.3,274.0 571.4,287.9 526.2,335.1" fill="#2d2d2d" />
<polygon points="496.8,319.1 499.1,316.8 503.0,318.8 500.7,321.1" fill="#4b4b4b" />
<polygon points="499.8,316.1 502.1,313.8 506.0,315.8 503.7,318.1" fill="#4b4b4b" />
<polygon points="502.9,313.1 505.2,310.8 509.0,312.8 506.7,315.1" fill="#4b4b4b" />
<polygon points="505.9,310.1 508.2,307.8 512.0,309.7 509.7,312.0" fill="#4b4b4b" />
<polygon points="508.9,307.1 511.2,304.8 515.1,306.7 512.8,309.0" fill="#4b4b4b" />
<polygon points="512.0,304.0 514.3,301.8 518.1,303.7 515.8,306.0" fill="#4b4b4b" />
<polygon points="515.0,301.0 517.3,298.7 521.1,300.6 518.8,302.9" fill="#4b4b4b" />
<polygon points="518.0,298.0 520.3,295.7 524.2,297.6 521.9,299.9" fill="#4b4b4b" />
<polygon points="521.1,295.0 523.4,292.7 527.2,294.6 524.9,296.9" fill="#4b4b4b" />
<polygon points="524.1,292.0 526.4,289.7 530.2,291.6 527.9,293.9" fill="#4b4b4b" />
<polygon points="527.1,289.0 529.4,286.7 533.3,288.5 530.9,290.8" fill="#4b4b4b" />
<polygon points="530.2,286.0 532.5,283.7 536.3,285.5 534.0,287.8" fill="#4b4b4b" />
<polygon points="533.2,283.0 535.5,280.7 539.3,282.5 537.0,284.8" fill="#4b4b4b" />
<polygon points="536.2,279.9 538.5,277.7 542.3,279.4 540.0,281.7" fill="#4b4b4b" />
<polygon points="539.2,276.9 541.6,274.6 545.4,276.4 543.1,278.7" fill="#4b4b4b" />
<polygon points="501.9,321.8 504.2,319.4 508.0,321.4 505.7,323.8" fill="#4b4b4b" />
<polygon points="504.9,318.7 507.2,316.4 511.0,318.4 508.7,320.7" fill="#4b4b4b" />
<polygon points="507.9,315.7 510.2,313.4 514.1,315.3 511.8,317.7" fill="#4b4b4b" />
<polygon points="511.0,312.6 513.3,310.3 517.1,312.3 514.8,314.6" fill="#4b4b4b" />
<polygon points="514.0,309.6 516.3,307.3 520.1,309.2 517.8,311.6" fill="#4b4b4b" />
<polygon points="517.0,306.6 519.3,304.3 523.1,306.2 520.8,308.5" fill="#4b4b4b" />
<polygon points="520.0,303.5 522.3,301.2 526.2,303.1 523.9,305.5" fill="#4b4b4b" />
<polygon points="523.1,300.5 525.4,298.2 529.2,300.1 526.9,302.4" fill="#4b4b4b" />
<polygon points="526.1,297.5 528.4,295.2 532.2,297.0 529.9,299.4" fill="#4b4b4b" />
<polygon points="529.1,294.4 531.4,292.1 535.3,294.0 533.0,296.3" fill="#4b4b4b" />
<polygon points="532.2,291.4 534.5,289.1 538.3,290.9 536.0,293.2" fill="#4b4b4b" />
<polygon points="535.2,288.4 537.5,286.1 541.3,287.9 539.0,290.2" fill="#4b4b4b" />
<polygon points="538.2,285.3 540.5,283.0 544.3,284.8 542.0,287.1" fill="#4b4b4b" />
<polygon points="541.2,282.3 543.5,280.0 547.4,281.8 545.1,284.1" fill="#4b4b4b" />
<polygon points="544.3,279.3 546.6,277.0 550.4,278.7 548.1,281.0" fill="#4b4b4b" />
<polygon points="506.9,324.4 509.2,322.1 513.1,324.1 510.8,326.4" fill="#4b4b4b" />
<polygon points="510.0,321.3 512.3,319.0 516.1,321.0 513.8,323.3" fill="#4b4b4b" />
<polygon points="513.0,318.3 515.3,316.0 519.1,317.9 516.8,320.3" fill="#4b4b4b" />
<polygon points="516.0,315.2 518.3,312.9 522.1,314.9 519.8,317.2" fill="#4b4b4b" />
<polygon points="519.0,312.2 521.3,309.8 525.2,311.8 522.9,314.1" fill="#4b4b4b" />
<polygon points="522.1,309.1 524.4,306.8 528.2,308.7 525.9,311.0" fill="#4b4b4b" />
<polygon points="525.1,306.1 527.4,303.7 531.2,305.6 528.9,308.0" fill="#4b4b4b" />
<polygon points="528.1,303.0 530.4,300.7 534.2,302.6 531.9,304.9" fill="#4b4b4b" />
<polygon points="531.1,299.9 533.4,297.6 537.3,299.5 535.0,301.8" fill="#4b4b4b" />
<polygon points="534.2,296.9 536.5,294.6 540.3,296.4 538.0,298.7" fill="#4b4b4b" />
<polygon points="537.2,293.8 539.5,291.5 543.3,293.3 541.0,295.7" fill="#4b4b4b" />
<polygon points="540.2,290.8 542.5,288.4 546.3,290.3 544.0,292.6" fill="#4b4b4b" />
<polygon points="543.2,287.7 545.5,285.4 549.4,287.2 547.1,289.5" fill="#4b4b4b" />
<polygon points="546.3,284.7 548.6,282.3 552.4,284.1 550.1,286.4" fill="#4b4b4b" />
<polygon points="549.3,281.6 551.6,279.3 555.4,281.0 553.1,283.4" fill="#4b4b4b" />
<polygon points="512.0,327.1 514.3,324.7 518.1,326.7 515.8,329.1" fill="#4b4b4b" />
<polygon points="515.0,324.0 517.3,321.6 521.2,323.6 518.9,326.0" fill="#4b4b4b" />
<polygon points="518.0,320.9 520.3,318.6 524.2,320.5 521.9,322.9" fill="#4b4b4b" />
<polygon points="521.1,317.8 523.4,315.5 527.2,317.4 524.9,319.8" fill="#4b4b4b" />
<polygon points="524.1,314.7 526.4,312.4 530.2,314.3 527.9,316.7" fill="#4b4b4b" />
<polygon points="527.1,311.7 529.4,309.3 533.2,311.2 530.9,313.6" fill="#4b4b4b" />
<polygon points="530.1,308.6 532.4,306.2 536.3,308.1 534.0,310.5" fill="#4b4b4b" />
<polygon points="533.2,305.5 535.4,303.2 539.3,305.0 537.0,307.4" fill="#4b4b4b" />
<polygon points="536.2,302.4 538.5,300.1 542.3,301.9 540.0,304.3" fill="#4b4b4b" />
<polygon points="539.2,299.3 541.5,297.0 545.3,298.8 543.0,301.2" fill="#4b4b4b" />
<polygon points="542.2,296.3 544.5,293.9 548.3,295.7 546.0,298.1" fill="#4b4b4b" />
<polygon points="545.2,293.2 547.5,290.8 551.4,292.6 549.1,295.0" fill="#4b4b4b" />
<polygon points="548.3,290.1 550.6,287.7 554.4,289.5 552.1,291.9" fill="#4b4b4b" />
<polygon points="551.3,287.0 553.6,284.7 557.4,286.4 555.1,288.8" fill="#4b4b4b" />
<polygon points="554.3,283.9 556.6,281.6 560.4,283.3 558.1,285.7" fill="#4b4b4b" />
<polygon points="517.1,329.7 519.3,327.3 523.2,329.3 520.9,331.7" fill="#4b4b4b" />
<polygon points="520.1,326.6 522.4,324.2 526.2,326.2 523.9,328.6" fill="#4b4b4b" />
<polygon points="523.1,323.5 525.4,321.1 529.2,323.1 526.9,325.5" fill="#4b4b4b" />
<polygon points="526.1,320.4 528.4,318.0 532.2,320.0 529.9,322.4" fill="#4b4b4b" />
<polygon points="529.1,317.3 531.4,314.9 535.3,316.9 533.0,319.2" fill="#4b4b4b" />
<polygon points="532.2,314.2 534.4,311.8 538.3,313.7 536.0,316.1" fill="#4b4b4b" />
<polygon points="535.2,311.1 537.5,308.7 541.3,310.6 539.0,313.0" fill="#4b4b4b" />
<polygon points="538.2,308.0 540.5,305.6 544.3,307.5 542.0,309.9" fill="#4b4b4b" />
<polygon points="541.2,304.9 543.5,302.5 547.3,304.4 545.0,306.8" fill="#4b4b4b" />
<polygon points="544.2,301.8 546.5,299.4 550.4,301.3 548.1,303.6" fill="#4b4b4b" />
<polygon points="547.3,298.7 549.5,296.3 553.4,298.1 551.1,300.5" fill="#4b4b4b" />
<polygon points="550.3,295.6 552.6,293.2 556.4,295.0 554.1,297.4" fill="#4b4b4b" />
<polygon points="553.3,292.5 555.6,290.1 559.4,291.9 557.1,294.3" fill="#4b4b4b" />
<polygon points="556.3,289.4 558.6,287.0 562.4,288.8 560.1,291.2" fill="#4b4b4b" />
<polygon points="559.3,286.3 561.6,283.9 565.4,285.7 563.1,288.0" fill="#4b4b4b" />
<polygon points="522.1,332.4 524.4,330.0 528.2,332.0 526.0,334.4" fill="#4b4b4b" />
<polygon points="525.1,329.2 527.4,326.9 531.3,328.8 529.0,331.2" fill="#4b4b4b" />
<polygon points="528.1,326.1 530.4,323.7 534.3,325.7 532.0,328.1" fill="#4b4b4b" />
<polygon points="531.2,323.0 533.5,320.6 537.3,322.5 535.0,324.9" fill="#4b4b4b" />
<polygon points="534.2,319.9 536.5,317.5 540.3,319.4 538.0,321.8" fill="#4b4b4b" />
<polygon points="537.2,316.7 548.5,305.0 552.4,306.8 541.0,318.7" fill="#4b4b4b" />
<polygon points="549.3,304.2 551.6,301.8 555.4,303.7 553.1,306.1" fill="#4b4b4b" />
<polygon points="552.3,301.1 554.6,298.7 558.4,300.5 556.1,302.9" fill="#4b4b4b" />
<polygon points="555.3,298.0 557.6,295.6 561.4,297.4 559.1,299.8" fill="#4b4b4b" />
<polygon points="558.3,294.8 560.6,292.5 564.4,294.3 562.1,296.7" fill="#4b4b4b" />
<polygon points="561.3,291.7 563.6,289.3 567.4,291.1 565.2,293.5" fill="#4b4b4b" />
<polygon points="564.4,288.6 566.6,286.2 570.5,288.0 568.2,290.4" fill="#4b4b4b" />
<polygon points="546.4,320.8 562.6,303.8 579.9,312.1 563.7,329.6" fill="#c6c6ca" />
<polygon points="478.2,265.0 529.3,210.6 532.7,267.1 481.5,317.0" fill="#151515" />
<polygon points="484.2,264.3 526.6,219.5 529.3,264.8 486.8,306.5" fill="#fdfdfd" />
<polygon points="233.2,415.0 334.0,423.8 334.0,426.5 233.2,417.6" fill="#111" />
<polygon points="243.4,360.5 340.8,366.3 334.0,423.8 233.2,415.0" fill="#2a2a2a" stroke="#1a1a1a" stroke-width="0.8"/>
<polygon points="245.9,368.4 335.9,374.1 332.1,405.7 240.4,398.4" fill="#2d2d2d" />
<polygon points="246.5,369.0 251.1,369.3 250.4,373.1 245.8,372.8" fill="#4b4b4b" />
<polygon points="252.5,369.4 257.1,369.7 256.4,373.5 251.8,373.2" fill="#4b4b4b" />
<polygon points="258.5,369.8 263.1,370.1 262.4,373.9 257.8,373.6" fill="#4b4b4b" />
<polygon points="264.5,370.2 269.1,370.5 268.4,374.3 263.9,374.0" fill="#4b4b4b" />
<polygon points="270.5,370.6 275.1,370.9 274.5,374.7 269.9,374.4" fill="#4b4b4b" />
<polygon points="276.5,370.9 281.1,371.2 280.5,375.1 275.9,374.8" fill="#4b4b4b" />
<polygon points="282.5,371.3 287.1,371.6 286.5,375.5 281.9,375.2" fill="#4b4b4b" />
<polygon points="288.5,371.7 293.1,372.0 292.5,375.9 287.9,375.6" fill="#4b4b4b" />
<polygon points="294.5,372.1 299.1,372.4 298.5,376.3 294.0,376.0" fill="#4b4b4b" />
<polygon points="300.5,372.5 305.1,372.8 304.6,376.7 300.0,376.4" fill="#4b4b4b" />
<polygon points="306.6,372.9 311.1,373.2 310.6,377.1 306.0,376.8" fill="#4b4b4b" />
<polygon points="312.6,373.2 317.1,373.5 316.6,377.5 312.0,377.2" fill="#4b4b4b" />
<polygon points="318.6,373.6 323.1,373.9 322.6,377.9 318.0,377.6" fill="#4b4b4b" />
<polygon points="324.6,374.0 329.1,374.3 328.6,378.3 324.1,378.0" fill="#4b4b4b" />
<polygon points="330.6,374.4 335.1,374.7 334.7,378.7 330.1,378.4" fill="#4b4b4b" />
<polygon points="245.6,374.0 250.2,374.3 249.5,378.2 244.9,377.8" fill="#4b4b4b" />
<polygon points="251.6,374.4 256.2,374.7 255.5,378.6 250.9,378.3" fill="#4b4b4b" />
<polygon points="257.6,374.8 262.2,375.1 261.5,379.0 257.0,378.7" fill="#4b4b4b" />
<polygon points="263.7,375.2 268.2,375.5 267.6,379.4 263.0,379.1" fill="#4b4b4b" />
<polygon points="269.7,375.6 274.3,375.9 273.6,379.8 269.0,379.5" fill="#4b4b4b" />
<polygon points="275.7,376.0 280.3,376.3 279.7,380.2 275.1,379.9" fill="#4b4b4b" />
<polygon points="281.7,376.4 286.3,376.7 285.7,380.6 281.1,380.3" fill="#4b4b4b" />
<polygon points="287.7,376.8 292.3,377.1 291.7,381.0 287.2,380.7" fill="#4b4b4b" />
<polygon points="293.8,377.2 298.4,377.5 297.8,381.5 293.2,381.1" fill="#4b4b4b" />
<polygon points="299.8,377.6 304.4,377.9 303.8,381.9 299.2,381.6" fill="#4b4b4b" />
<polygon points="305.8,378.0 310.4,378.3 309.9,382.3 305.3,382.0" fill="#4b4b4b" />
<polygon points="311.8,378.4 316.4,378.7 315.9,382.7 311.3,382.4" fill="#4b4b4b" />
<polygon points="317.9,378.8 322.4,379.1 321.9,383.1 317.3,382.8" fill="#4b4b4b" />
<polygon points="323.9,379.2 328.5,379.5 328.0,383.5 323.4,383.2" fill="#4b4b4b" />
<polygon points="329.9,379.6 334.5,379.9 334.0,383.9 329.4,383.6" fill="#4b4b4b" />
<polygon points="244.7,379.0 249.2,379.4 248.6,383.2 244.0,382.9" fill="#4b4b4b" />
<polygon points="250.7,379.5 255.3,379.8 254.6,383.6 250.0,383.3" fill="#4b4b4b" />
<polygon points="256.7,379.9 261.3,380.2 260.7,384.0 256.1,383.7" fill="#4b4b4b" />
<polygon points="262.8,380.3 267.4,380.6 266.7,384.5 262.1,384.1" fill="#4b4b4b" />
<polygon points="268.8,380.7 273.4,381.0 272.8,384.9 268.2,384.6" fill="#4b4b4b" />
<polygon points="274.9,381.1 279.5,381.4 278.9,385.3 274.2,385.0" fill="#4b4b4b" />
<polygon points="280.9,381.5 285.5,381.9 284.9,385.8 280.3,385.4" fill="#4b4b4b" />
<polygon points="287.0,382.0 291.6,382.3 291.0,386.2 286.4,385.9" fill="#4b4b4b" />
<polygon points="293.0,382.4 297.6,382.7 297.0,386.6 292.4,386.3" fill="#4b4b4b" />
<polygon points="299.0,382.8 303.6,383.1 303.1,387.0 298.5,386.7" fill="#4b4b4b" />
<polygon points="305.1,383.2 309.7,383.5 309.1,387.5 304.5,387.2" fill="#4b4b4b" />
<polygon points="311.1,383.6 315.7,384.0 315.2,387.9 310.6,387.6" fill="#4b4b4b" />
<polygon points="317.2,384.1 321.8,384.4 321.3,388.3 316.7,388.0" fill="#4b4b4b" />
<polygon points="323.2,384.5 327.8,384.8 327.3,388.8 322.7,388.4" fill="#4b4b4b" />
<polygon points="329.3,384.9 333.9,385.2 333.4,389.2 328.8,388.9" fill="#4b4b4b" />
<polygon points="243.7,384.1 248.3,384.4 247.7,388.2 243.0,387.9" fill="#4b4b4b" />
<polygon points="249.8,384.5 254.4,384.8 253.7,388.6 249.1,388.3" fill="#4b4b4b" />
<polygon points="255.9,384.9 260.5,385.3 259.8,389.1 255.2,388.8" fill="#4b4b4b" />
<polygon points="261.9,385.4 266.5,385.7 265.9,389.5 261.3,389.2" fill="#4b4b4b" />
<polygon points="268.0,385.8 272.6,386.1 272.0,390.0 267.3,389.6" fill="#4b4b4b" />
<polygon points="274.0,386.2 278.7,386.6 278.0,390.4 273.4,390.1" fill="#4b4b4b" />
<polygon points="280.1,386.7 284.7,387.0 284.1,390.9 279.5,390.5" fill="#4b4b4b" />
<polygon points="286.2,387.1 290.8,387.4 290.2,391.3 285.6,391.0" fill="#4b4b4b" />
<polygon points="292.2,387.5 296.8,387.9 296.3,391.8 291.7,391.4" fill="#4b4b4b" />
<polygon points="298.3,388.0 302.9,388.3 302.4,392.2 297.7,391.9" fill="#4b4b4b" />
<polygon points="304.4,388.4 309.0,388.7 308.4,392.7 303.8,392.3" fill="#4b4b4b" />
<polygon points="310.4,388.8 315.0,389.2 314.5,393.1 309.9,392.8" fill="#4b4b4b" />
<polygon points="316.5,389.3 321.1,389.6 320.6,393.6 316.0,393.2" fill="#4b4b4b" />
<polygon points="322.6,389.7 327.2,390.0 326.7,394.0 322.0,393.7" fill="#4b4b4b" />
<polygon points="328.6,390.1 333.2,390.5 332.7,394.5 328.1,394.1" fill="#4b4b4b" />
<polygon points="242.8,389.1 247.4,389.4 246.7,393.2 242.1,392.9" fill="#4b4b4b" />
<polygon points="248.9,389.5 253.5,389.9 252.8,393.7 248.2,393.3" fill="#4b4b4b" />
<polygon points="255.0,390.0 259.6,390.3 258.9,394.1 254.3,393.8" fill="#4b4b4b" />
<polygon points="261.1,390.4 265.7,390.8 265.0,394.6 260.4,394.3" fill="#4b4b4b" />
<polygon points="267.1,390.9 271.8,391.2 271.1,395.1 266.5,394.7" fill="#4b4b4b" />
<polygon points="273.2,391.3 277.8,391.7 277.2,395.5 272.6,395.2" fill="#4b4b4b" />
<polygon points="279.3,391.8 283.9,392.1 283.3,396.0 278.7,395.7" fill="#4b4b4b" />
<polygon points="285.4,392.2 290.0,392.6 289.4,396.5 284.8,396.1" fill="#4b4b4b" />
<polygon points="291.5,392.7 296.1,393.0 295.5,396.9 290.9,396.6" fill="#4b4b4b" />
<polygon points="297.6,393.1 302.2,393.5 301.6,397.4 297.0,397.0" fill="#4b4b4b" />
<polygon points="303.6,393.6 308.3,393.9 307.7,397.9 303.1,397.5" fill="#4b4b4b" />
<polygon points="309.7,394.0 314.3,394.4 313.8,398.3 309.2,398.0" fill="#4b4b4b" />
<polygon points="315.8,394.5 320.4,394.8 319.9,398.8 315.3,398.4" fill="#4b4b4b" />
<polygon points="321.9,394.9 326.5,395.3 326.0,399.2 321.4,398.9" fill="#4b4b4b" />
<polygon points="328.0,395.4 332.6,395.7 332.1,399.7 327.5,399.4" fill="#4b4b4b" />
<polygon points="241.9,394.1 246.5,394.4 245.8,398.2 241.2,397.9" fill="#4b4b4b" />
<polygon points="248.0,394.5 252.6,394.9 252.0,398.7 247.3,398.4" fill="#4b4b4b" />
<polygon points="254.1,395.0 258.7,395.4 258.1,399.2 253.4,398.8" fill="#4b4b4b" />
<polygon points="260.2,395.5 264.8,395.8 264.2,399.7 259.5,399.3" fill="#4b4b4b" />
<polygon points="266.3,395.9 270.9,396.3 270.3,400.2 265.7,399.8" fill="#4b4b4b" />
<polygon points="272.4,396.4 295.3,398.2 294.8,402.1 271.8,400.3" fill="#4b4b4b" />
<polygon points="296.8,398.3 301.4,398.6 300.9,402.6 296.2,402.2" fill="#4b4b4b" />
<polygon points="302.9,398.7 307.5,399.1 307.0,403.0 302.4,402.7" fill="#4b4b4b" />
<polygon points="309.0,399.2 313.6,399.6 313.1,403.5 308.5,403.2" fill="#4b4b4b" />
<polygon points="315.1,399.7 319.7,400.0 319.2,404.0 314.6,403.6" fill="#4b4b4b" />
<polygon points="321.2,400.2 325.8,400.5 325.3,404.5 320.7,404.1" fill="#4b4b4b" />
<polygon points="327.3,400.6 331.9,401.0 331.5,405.0 326.8,404.6" fill="#4b4b4b" />
<polygon points="269.2,401.3 302.6,403.9 300.4,420.0 266.6,417.1" fill="#c6c6ca" />
<polygon points="242.3,301.5 342.1,308.4 340.8,367.3 243.4,361.0" fill="#151515" />
<polygon points="248.7,307.3 336.0,312.9 335.3,357.8 249.2,352.8" fill="#fdfdfd" />
</g>
</svg></body></html>
